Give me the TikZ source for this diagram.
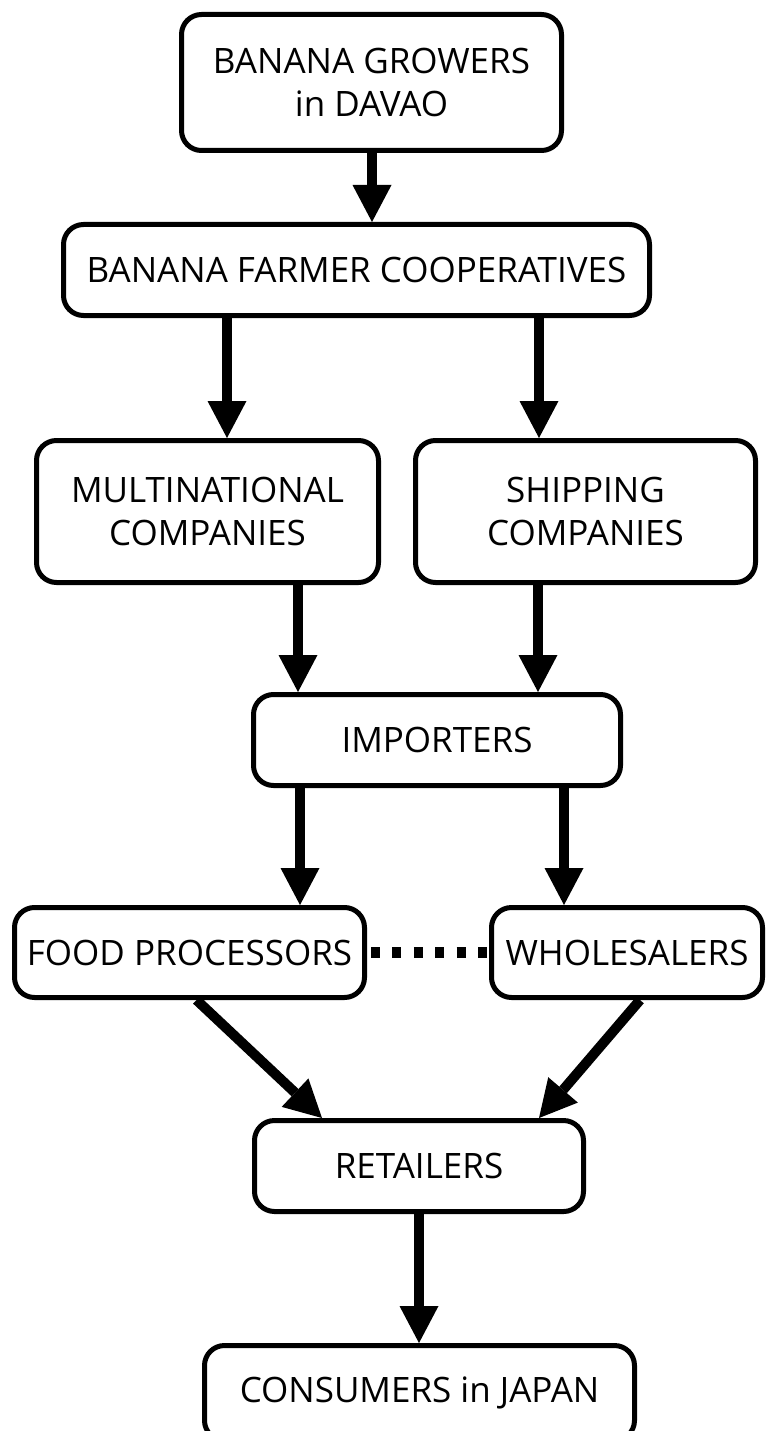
\documentclass[tikz,border=0pt]{standalone}
\usepackage{fontspec}
\setmainfont{Open Sans}
\usetikzlibrary{arrows.meta}
\begin{document}
\begin{tikzpicture}[line join=round, >={Triangle[width=39pt,length=37pt,line width=0pt]}, x=1pt, y=-1pt]
		\tikzset{box/.style={draw, line width=5pt, rounded corners=20pt, align=center, inner sep=0pt, font=\fontsize{35}{43}\selectfont}}
		\tikzset{flow/.style={->, line width=10pt}}
		\useasboundingbox (0,0) rectangle (768,1431);
		\node[box, minimum width=380pt, minimum height=136pt] (grow) at (371.5,82.5) {BANANA GROWERS\\in DAVAO};
		\node[box, minimum width=586pt, minimum height=91pt] (coop) at (356.5,270) {BANANA FARMER COOPERATIVES};
		\node[box, minimum width=342pt, minimum height=142pt] (multi) at (207.5,511.5) {MULTINATIONAL\\COMPANIES};
		\node[box, minimum width=340pt, minimum height=142pt] (ship) at (585.5,511.5) {SHIPPING\\COMPANIES};
		\node[box, minimum width=367pt, minimum height=91pt] (imp) at (437,740) {IMPORTERS};
		\node[box, minimum width=350pt, minimum height=90pt] (food) at (189.5,952.5) {FOOD PROCESSORS};
		\node[box, minimum width=271pt, minimum height=90pt] (whole) at (627,952.5) {WHOLESALERS};
		\node[box, minimum width=329pt, minimum height=91pt] (ret) at (419,1166) {RETAILERS};
		\node[box, minimum width=430pt, minimum height=95pt] (cons) at (419.5,1393) {CONSUMERS in JAPAN};
		%straight arrows down
		\foreach \x/\a/\b in {372/grow/coop,227/coop/multi,539/coop/ship,298/multi/imp,538/ship/imp,300/imp/food,564/imp/whole,419/ret/cons}
		\draw[flow] (\x,0 |- \a.south) -- (\x,0 |- \b.north);
		%slanted arrows into retailers
		\draw[flow] ([xshift=7pt]food.south) -- ([xshift=-97pt]ret.north);
		\draw[flow] ([xshift=13pt]whole.south) -- ([xshift=120pt]ret.north);
		\draw[line width=11pt, dash pattern=on 9pt off 12.4pt] ([xshift=4pt]food.east) -- (whole.west);
\end{tikzpicture}
\end{document}
